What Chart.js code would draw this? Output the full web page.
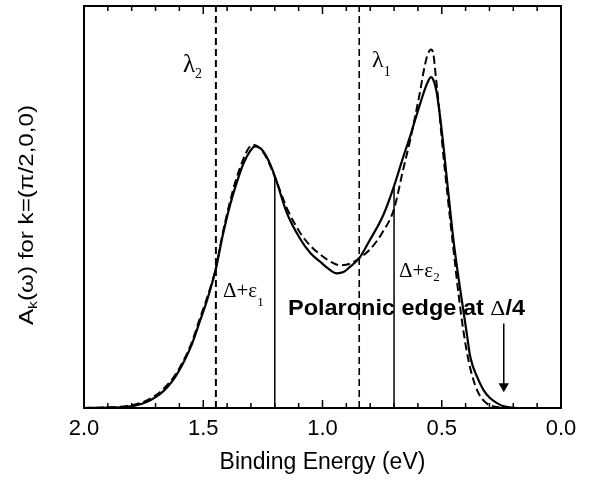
<!DOCTYPE html>
<html>
<head>
<meta charset="utf-8">
<script src="https://cdn.jsdelivr.net/npm/chart.js@4.4.0/dist/chart.umd.min.js"></script>
<style>
  html, body { margin: 0; padding: 0; background: #fff; }
  #wrap { width: 597px; height: 481px; }
</style>
</head>
<body>
<div id="wrap"><canvas id="spectrum" width="597" height="481"></canvas></div>
<script>
// binding energy (eV) and spectral weight, solid curve
const energySolid = [2.0, 1.9, 1.82, 1.76, 1.72, 1.68, 1.65, 1.62, 1.59, 1.55, 1.514, 1.483, 1.447, 1.42, 1.388,
    1.36, 1.33, 1.305, 1.283, 1.26, 1.23, 1.2, 1.15, 1.094, 1.05, 1.01, 0.97, 0.94, 0.91, 0.885, 0.847, 0.806,
    0.745, 0.70, 0.665, 0.632, 0.61, 0.59, 0.576, 0.56, 0.545, 0.535, 0.522, 0.50, 0.475, 0.45, 0.43, 0.411, 0.395,
    0.38, 0.35, 0.324, 0.30, 0.268, 0.24, 0.2, 0.15, 0.1, 0.0];
const intensitySolid = [0, 0.1, 0.3, 1.0, 2.0, 3.5, 5.2, 7.5, 10.5, 15.5, 21.6, 27.0, 34.7, 42.5, 50.4,
    56.0, 61.0, 63.8, 65.1, 64.6, 62.0, 57.7, 48.6, 42.1, 38.5, 36.4, 34.4, 33.5, 33.9, 35.1, 37.2, 41.3,
    48.0, 55.2, 61.8, 67.7, 72.0, 75.8, 78.4, 80.9, 82.3, 81.6, 78.8, 69.0, 55.0, 41.3, 32.5, 24.9, 18.5,
    12.6, 7.5, 4.4, 2.6, 1.2, 0.4, 0.05, 0, 0, 0];

// dashed curve
const energyDashed = [2.0, 1.9, 1.82, 1.76, 1.72, 1.68, 1.65, 1.62, 1.59, 1.55, 1.514, 1.483, 1.447, 1.42, 1.388,
    1.36, 1.33, 1.31, 1.293, 1.27, 1.24, 1.2, 1.15, 1.094, 1.05, 1.01, 0.96, 0.926, 0.885, 0.847, 0.80, 0.745,
    0.70, 0.665, 0.633, 0.61, 0.59, 0.575, 0.56, 0.545, 0.535, 0.525, 0.513, 0.50, 0.475, 0.45, 0.43, 0.41,
    0.39, 0.37, 0.35, 0.33, 0.31, 0.29, 0.26, 0.22, 0.15, 0.0];
const intensityDashed = [0, 0.15, 0.5, 1.3, 2.4, 4.0, 5.8, 8.0, 11.0, 16.0, 22.3, 27.6, 34.7, 43.0, 51.3,
    57.3, 62.2, 64.6, 65.5, 65.0, 62.8, 57.5, 49.8, 43.6, 40.3, 38.2, 36.2, 35.5, 35.9, 37.2, 39.5, 44.0,
    49.5, 58.5, 66.5, 73.0, 79.0, 84.0, 87.8, 89.2, 88.0, 82.5, 75.7, 67.0, 52.5, 39.0, 28.5, 19.5,
    12.5, 7.5, 4.2, 2.2, 1.1, 0.5, 0.15, 0.02, 0, 0];

const lambdaEnergies = [1.447, 0.846];
const gapEnergies = [1.2, 0.70];
const gapHeights = [57.7, 55.2];
const edgeEnergy = 0.24;
const edgeArrow = [21, 5.4];
const majorTicks = [2.0, 1.5, 1.0, 0.5, 0.0];

const SANS = '"Liberation Sans", Arial, sans-serif';
const SERIF = '"Liberation Serif", "Times New Roman", serif';

function toPoints(xs, ys) {
    return xs.map((x, i) => ({ x: x, y: ys[i] }));
}

function vertical(e, top) {
    return [{ x: e, y: 0 }, { x: e, y: top }];
}

function runWidth(ctx, parts) {
    let w = 0;
    parts.forEach(p => { ctx.font = p.font; w += ctx.measureText(p.text).width; });
    return w;
}

// draws a run of text pieces; optional target width stretches it horizontally
function drawRun(ctx, x, y, parts, target, angle) {
    ctx.save();
    ctx.translate(x, y);
    if (angle) ctx.rotate(angle);
    if (target) ctx.scale(target / runWidth(ctx, parts), 1);
    ctx.textBaseline = 'alphabetic';
    ctx.textAlign = 'left';
    let cx = 0;
    parts.forEach(p => {
        ctx.font = p.font;
        ctx.fillText(p.text, cx, p.dy || 0);
        cx += ctx.measureText(p.text).width;
    });
    ctx.restore();
}

const decorations = {
    id: 'decorations',
    afterDraw(chart) {
        const { ctx, chartArea: a, scales: { x } } = chart;
        ctx.save();
        ctx.strokeStyle = '#000';
        ctx.fillStyle = '#000';

        // inward ticks on top and bottom
        ctx.lineWidth = 1.5;
        x.ticks.forEach(t => {
            const px = x.getPixelForValue(t.value);
            const major = majorTicks.some(m => Math.abs(m - t.value) < 1e-6);
            const len = major ? 8 : 5;
            ctx.beginPath();
            ctx.moveTo(px, a.bottom);
            ctx.lineTo(px, a.bottom - len);
            ctx.moveTo(px, a.top);
            ctx.lineTo(px, a.top + len);
            ctx.stroke();
        });

        ctx.lineWidth = 2;
        ctx.strokeRect(a.left, a.top, a.right - a.left, a.bottom - a.top);

        drawRun(ctx, 183, 71.5, [
            { text: 'λ', font: '25px ' + SERIF },
            { text: '2', font: '14px ' + SERIF, dy: 6 }
        ]);
        drawRun(ctx, 372, 66.5, [
            { text: 'λ', font: '24px ' + SERIF },
            { text: '1', font: '14px ' + SERIF, dy: 9 }
        ]);
        drawRun(ctx, 223, 296.5, [
            { text: 'Δ+ε', font: '21px ' + SERIF },
            { text: '1', font: '13px ' + SERIF, dy: 9 }
        ]);
        drawRun(ctx, 399, 276.5, [
            { text: 'Δ+ε', font: '21px ' + SERIF },
            { text: '2', font: '13px ' + SERIF, dy: 4 }
        ]);
        drawRun(ctx, 288, 315, [
            { text: 'Polaronic edge at ', font: 'bold 22px ' + SANS },
            { text: 'Δ', font: '22px ' + SERIF },
            { text: '/4', font: 'bold 22px ' + SANS }
        ], 237);

        // y axis title, rotated
        drawRun(ctx, 33, 325, [
            { text: 'A', font: '20px ' + SANS },
            { text: 'k', font: '13px ' + SANS, dy: 4 },
            { text: '(ω) for k=(π/2,0,0)', font: '20px ' + SANS }
        ], 220, -Math.PI / 2);

        ctx.restore();
    }
};

new Chart(document.getElementById('spectrum'), {
    type: 'line',
    data: {
        datasets: [
            {
                data: toPoints(energySolid, intensitySolid),
                borderColor: '#000', borderWidth: 2.2,
                cubicInterpolationMode: 'monotone', pointRadius: 0
            },
            {
                data: toPoints(energyDashed, intensityDashed),
                borderColor: '#000', borderWidth: 2, borderDash: [8, 4],
                cubicInterpolationMode: 'monotone', pointRadius: 0
            },
            {
                data: vertical(lambdaEnergies[0], 100),
                borderColor: '#000', borderWidth: 2, borderDash: [7, 4], pointRadius: 0
            },
            {
                data: vertical(lambdaEnergies[1], 100),
                borderColor: '#000', borderWidth: 1.6, borderDash: [7, 4], pointRadius: 0
            },
            {
                data: vertical(gapEnergies[0], gapHeights[0]),
                borderColor: '#000', borderWidth: 1.5, pointRadius: 0
            },
            {
                data: vertical(gapEnergies[1], gapHeights[1]),
                borderColor: '#000', borderWidth: 1.5, pointRadius: 0
            },
            {
                data: [{ x: edgeEnergy, y: edgeArrow[0] }, { x: edgeEnergy, y: edgeArrow[1] }],
                borderColor: '#000', borderWidth: 1.5,
                pointRadius: [0, 6], pointStyle: 'triangle', pointRotation: 180,
                pointBackgroundColor: '#000', pointBorderColor: '#000', pointBorderWidth: 0
            }
        ]
    },
    options: {
        responsive: false,
        animation: false,
        events: [],
        layout: { padding: { left: 84, right: 36, top: 1, bottom: 0 } },
        plugins: { legend: { display: false }, tooltip: { enabled: false } },
        scales: {
            x: {
                type: 'linear',
                min: 0, max: 2,
                reverse: true,
                grid: { display: false, drawTicks: false },
                border: { display: false },
                ticks: {
                    stepSize: 0.1,
                    autoSkip: false,
                    maxRotation: 0,
                    padding: 8,
                    color: '#000',
                    font: { family: SANS, size: 22 },
                    callback: v => majorTicks.some(m => Math.abs(m - v) < 1e-6) ? v.toFixed(1) : ''
                },
                title: {
                    display: true,
                    text: 'Binding Energy (eV)',
                    color: '#000',
                    font: { family: SANS, size: 23 },
                    padding: { top: 0, bottom: 5 }
                },
                afterFit: s => { s.height = 73; }
            },
            y: {
                display: false,
                min: 0, max: 100
            }
        }
    },
    plugins: [decorations]
});
</script>
</body>
</html>
